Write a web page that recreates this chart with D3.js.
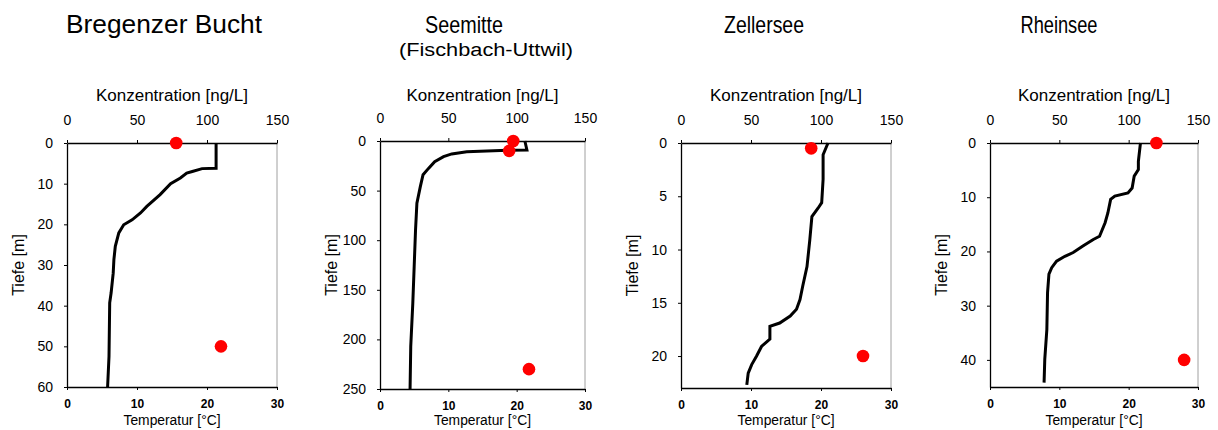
<!DOCTYPE html>
<html>
<head>
<meta charset="utf-8">
<script src="https://cdn.jsdelivr.net/npm/d3@7/dist/d3.min.js"></script>
<style>
  html, body { margin: 0; padding: 0; background: #fff; }
  text { font-family: Arial, "Liberation Sans", sans-serif; fill: #000; }
</style>
</head>
<body>
<div id="chart"></div>
<script>
// Panel titles
const titles = ["Bregenzer Bucht", "Seemitte", "Zellersee", "Rheinsee"];
const subtitles = ["", "(Fischbach-Uttwil)", "", ""];

// Axis ranges and ticks
const depthMax = [60, 250, 23, 45];
const depthTicks = [
    [0, 10, 20, 30, 40, 50, 60],
    [0, 50, 100, 150, 200, 250],
    [0, 5, 10, 15, 20],
    [0, 10, 20, 30, 40]
];
const concTicks = [0, 50, 100, 150];
const tempTicks = [0, 10, 20, 30];

// Temperature profiles [depth m, temperature °C]
const tempBregenz = [
    [0, 21.3], [6.2, 21.3], [6.3, 19.3], [7, 17.9], [7.4, 17.1], [8.6, 16.2],
    [10, 14.8], [12.7, 13.3], [15.6, 11.4], [17.2, 10.5], [18.9, 9.3], [20.1, 8.1],
    [22.1, 7.4], [25.4, 6.9], [28.7, 6.7], [32, 6.6], [36.9, 6.3], [39.3, 6.1],
    [52.5, 6.0], [60, 5.8]
];
const tempSeemitte = [
    [0, 21.2], [9, 21.5], [9.6, 17.6], [10.8, 12.7], [13, 10.5], [15.8, 9.3],
    [20.8, 8.0], [27.6, 7.1], [34, 6.3], [46, 5.9], [62.8, 5.4], [89.7, 5.2],
    [126.7, 5.0], [163.6, 4.8], [207, 4.5], [250, 4.4]
];
const tempZeller = [
    [0, 21.0], [1.1, 20.3], [3.4, 20.3], [5.6, 20.1], [6.1, 19.6], [6.9, 18.7],
    [9.1, 18.4], [11.6, 18.0], [13.4, 17.4], [14.7, 17.0], [15.6, 16.5], [16.25, 15.6],
    [16.9, 14.1], [17.2, 12.7], [18.4, 12.7], [19.1, 11.5], [20, 10.8], [20.8, 10.1],
    [21.6, 9.6], [22.7, 9.4]
];
const tempRhein = [
    [0, 21.7], [3.4, 21.4], [4.9, 21.4], [6.1, 20.8], [8.3, 20.5], [9.2, 19.9],
    [9.8, 18.0], [10.4, 17.4], [12.9, 17.0], [14.7, 16.6], [17.2, 15.8], [17.8, 14.9],
    [19, 13.4], [20.2, 12.0], [20.9, 10.8], [21.8, 9.6], [23, 8.9], [24.2, 8.5],
    [27.6, 8.3], [34.4, 8.2], [39.9, 7.9], [44.2, 7.8]
];

// Concentrations [depth m, ng/L]
const concBregenz = [[0, 78], [50, 110]];
const concSeemitte = [[0, 97.5], [10, 94.5], [230, 109]];
const concZeller = [[0.5, 93], [20, 130]];
const concRhein = [[0, 120], [40, 140]];

const tempSeries = [tempBregenz, tempSeemitte, tempZeller, tempRhein];
const concSeries = [concBregenz, concSeemitte, concZeller, concRhein];

// Layout
const width = 1218, height = 430;
const boxes = [
    { left: 67, right: 277, top: 143, bottom: 387 },
    { left: 380, right: 585, top: 141, bottom: 389 },
    { left: 681, right: 891, top: 143, bottom: 388 },
    { left: 990, right: 1198, top: 143, bottom: 387 }
];
const titleX = [164, 464, 764, 1059];
const titleLen = [196, 78, 80, 77];
const titleSize = [26, 24, 24, 24];

const svg = d3.select("#chart").append("svg")
    .attr("width", width)
    .attr("height", height);

boxes.forEach((b, i) => {
    const g = svg.append("g");

    const x = d3.scaleLinear().domain([0, 30]).range([b.left, b.right]);
    const xc = d3.scaleLinear().domain([0, 150]).range([b.left, b.right]);
    const y = d3.scaleLinear().domain([0, depthMax[i]]).range([b.top, b.bottom]);

    // titles
    g.append("text")
        .attr("x", titleX[i]).attr("y", 33)
        .attr("text-anchor", "middle")
        .attr("font-size", titleSize[i])
        .attr("textLength", titleLen[i])
        .attr("lengthAdjust", "spacingAndGlyphs")
        .text(titles[i]);
    if (subtitles[i]) {
        g.append("text")
            .attr("x", 486).attr("y", 56)
            .attr("text-anchor", "middle")
            .attr("font-size", 18)
            .attr("textLength", 174)
            .attr("lengthAdjust", "spacingAndGlyphs")
            .text(subtitles[i]);
    }

    // right border (gray)
    g.append("line")
        .attr("x1", b.right).attr("x2", b.right)
        .attr("y1", b.top).attr("y2", b.bottom)
        .attr("stroke", "#a0a0a0").attr("stroke-width", 1);

    // axes
    const top = g.append("g")
        .attr("transform", `translate(0,${b.top})`)
        .call(d3.axisTop(xc).tickValues(concTicks).tickSize(3).tickSizeOuter(0).tickPadding(15));
    top.selectAll("text").attr("font-size", 14).attr("dy", 0);

    const bottom = g.append("g")
        .attr("transform", `translate(0,${b.bottom})`)
        .call(d3.axisBottom(x).tickValues(tempTicks).tickSize(3).tickSizeOuter(0).tickPadding(9));
    bottom.selectAll("text").attr("font-size", 12).attr("font-weight", "bold");

    const left = g.append("g")
        .attr("transform", `translate(${b.left},0)`)
        .call(d3.axisLeft(y).tickValues(depthTicks[i]).tickSize(3).tickSizeOuter(0).tickPadding(11));
    left.selectAll("text").attr("font-size", 14);

    g.selectAll(".domain").attr("stroke", "#000").attr("stroke-width", 1.3);
    g.selectAll(".tick line").attr("stroke", "#000");
    g.selectAll(".tick text").attr("font-family", "Arial, 'Liberation Sans', sans-serif").attr("fill", "#000");

    // axis titles
    const cx = (b.left + b.right) / 2;
    g.append("text")
        .attr("x", cx).attr("y", 101)
        .attr("text-anchor", "middle")
        .attr("font-size", 16)
        .attr("textLength", 152)
        .attr("lengthAdjust", "spacingAndGlyphs")
        .text("Konzentration [ng/L]");
    g.append("text")
        .attr("x", cx).attr("y", 425)
        .attr("text-anchor", "middle")
        .attr("font-size", 14)
        .attr("textLength", 97)
        .attr("lengthAdjust", "spacingAndGlyphs")
        .text("Temperatur [°C]");
    g.append("text")
        .attr("transform", `translate(${b.left - 43},${(b.top + b.bottom) / 2}) rotate(-90)`)
        .attr("text-anchor", "middle")
        .attr("font-size", 16)
        .text("Tiefe [m]");

    // temperature line
    const line = d3.line()
        .x(d => x(d[1]))
        .y(d => y(d[0]));
    g.append("path")
        .datum(tempSeries[i])
        .attr("d", line)
        .attr("fill", "none")
        .attr("stroke", "#000")
        .attr("stroke-width", 3)
        .attr("stroke-linejoin", "miter");

    // concentration dots
    g.selectAll("circle.conc")
        .data(concSeries[i])
        .enter()
        .append("circle")
        .attr("class", "conc")
        .attr("cx", d => xc(d[1]))
        .attr("cy", d => y(d[0]))
        .attr("r", 6.3)
        .attr("fill", "#ff0000");
});
</script>
</body>
</html>
